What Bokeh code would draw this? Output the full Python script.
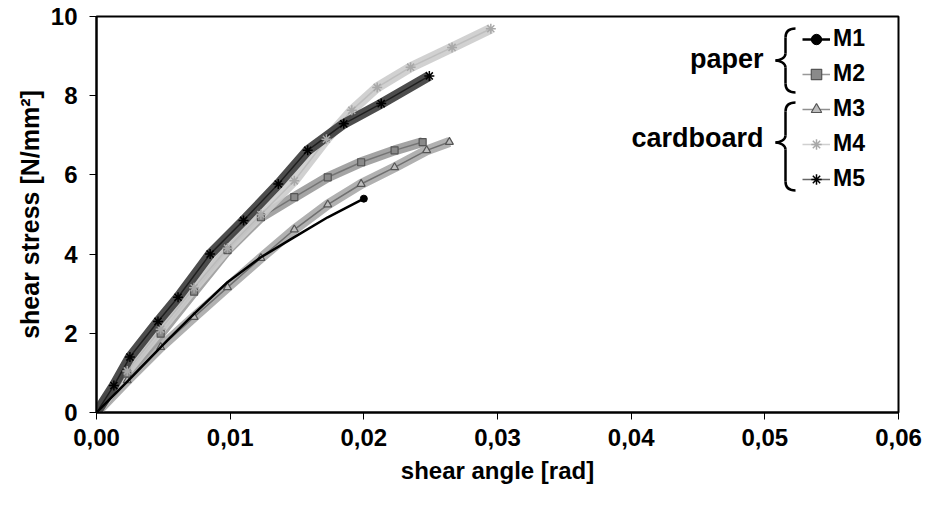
from bokeh.plotting import figure
from bokeh.models import (Range1d, FixedTicker, Legend, LegendItem, Label)
from bokeh.embed import file_html
from bokeh.resources import INLINE

# ---- data ----
m1_angle = [0, 0.0025, 0.0053, 0.0073, 0.0098, 0.0123, 0.0148, 0.0173, 0.0200]
m1_stress = [0, 0.85, 1.82, 2.49, 3.29, 3.92, 4.43, 4.93, 5.40]

m2_angle = [0, 0.0023, 0.0048, 0.0073, 0.0098, 0.0123, 0.0148, 0.0173, 0.0198, 0.0223, 0.0244]
m2_stress = [0, 0.98, 1.99, 3.05, 4.10, 4.93, 5.44, 5.94, 6.32, 6.62, 6.83]

m3_angle = [0, 0.0023, 0.0048, 0.0073, 0.0098, 0.0123, 0.0148, 0.0173, 0.0198, 0.0223, 0.0247, 0.0264]
m3_stress = [0, 0.81, 1.65, 2.41, 3.16, 3.90, 4.62, 5.25, 5.77, 6.19, 6.62, 6.83]

m4_angle = [0, 0.0023, 0.0048, 0.0073, 0.0098, 0.0123, 0.0148, 0.0172, 0.0191, 0.0210, 0.0235, 0.0266, 0.0295]
m4_stress = [0, 1.05, 2.10, 3.15, 4.15, 5.00, 5.85, 6.90, 7.63, 8.21, 8.72, 9.22, 9.69]

m5_angle = [0, 0.0013, 0.0025, 0.0046, 0.0061, 0.0085, 0.0110, 0.0136, 0.0158, 0.0185, 0.0213, 0.0249]
m5_stress = [0, 0.68, 1.40, 2.30, 2.91, 4.00, 4.85, 5.77, 6.62, 7.29, 7.80, 8.50]

x_ticks = [0, 0.01, 0.02, 0.03, 0.04, 0.05, 0.06]
x_tick_labels = ["0,00", "0,01", "0,02", "0,03", "0,04", "0,05", "0,06"]
y_ticks = [0, 2, 4, 6, 8, 10]

series_names = ["M1", "M2", "M3", "M4", "M5"]
group_labels = ["paper", "cardboard"]

FONT = "Liberation Sans"

p = figure(width=924, height=500, output_backend="svg", toolbar_location=None,
           x_range=Range1d(0, 0.06), y_range=Range1d(0, 10),
           min_border_left=96, min_border_right=26, min_border_top=16,
           min_border_bottom=88)
p.background_fill_color = "white"
p.border_fill_color = "white"
p.outline_line_color = "black"
p.outline_line_width = 2
p.xgrid.visible = False
p.ygrid.visible = False

for ax in (p.xaxis[0], p.yaxis[0]):
    ax.axis_line_color = "black"
    ax.axis_line_width = 2
    ax.major_tick_line_color = "black"
    ax.major_tick_line_width = 1
    ax.major_tick_out = 7
    ax.major_tick_in = 0
    ax.minor_tick_line_color = None
    ax.major_label_text_font = FONT
    ax.major_label_text_font_style = "bold"
    ax.major_label_text_font_size = "24px"
    ax.major_label_text_color = "black"
    ax.axis_label_text_font = FONT
    ax.axis_label_text_font_style = "bold"
    ax.axis_label_text_color = "black"

p.xaxis.axis_label_text_font_size = "24px"
p.yaxis.axis_label_text_font_size = "25px"
p.xaxis.ticker = FixedTicker(ticks=x_ticks)
p.xaxis.major_label_overrides = {t: l for t, l in zip(x_ticks, x_tick_labels)}
p.yaxis.ticker = FixedTicker(ticks=y_ticks)
p.xaxis.axis_label = "shear angle [rad]"
p.yaxis.axis_label = "shear stress [N/mm²]"
p.xaxis.major_label_standoff = 9
p.xaxis.axis_label_standoff = 8
p.yaxis.major_label_standoff = 12
p.yaxis.axis_label_standoff = 4

# ---- bands (dense measurement points) ----
series = [
    ("M3", m3_angle, m3_stress, "#a8a8a8", "#444444"),
    ("M2", m2_angle, m2_stress, "#9a9a9a", "#555555"),
    ("M4", m4_angle, m4_stress, "#cccccc", "#b0b0b0"),
    ("M5", m5_angle, m5_stress, "#3a3a3a", "black"),
]
thin = {}
for name, xs, ys, band_col, thin_col in series:
    p.line(xs, ys, line_color=band_col, line_width=10, line_alpha=0.9)
    thin[name] = p.line(xs, ys, line_color=thin_col, line_width=1.5, line_alpha=0.6)

marks = {}
marks["M3"] = p.scatter(m3_angle, m3_stress, marker="triangle", size=8,
                        fill_color="#bdbdbd", line_color="#555555", line_width=1.2)
marks["M2"] = p.scatter(m2_angle, m2_stress, marker="square", size=7,
                        fill_color="#8a8a8a", line_color="#555555", line_width=1.2)
marks["M4"] = p.scatter(m4_angle, m4_stress, marker="asterisk", size=10,
                        line_color="#a8a8a8", line_width=1.5)
marks["M5"] = p.scatter(m5_angle, m5_stress, marker="asterisk", size=10,
                        line_color="black", line_width=1.5)
thin["M1"] = p.line(m1_angle, m1_stress, line_color="black", line_width=2.5)
marks["M1"] = p.scatter(m1_angle[-1:], m1_stress[-1:], marker="circle", size=7,
                        fill_color="black", line_color="black")

# ---- legend ----
items = [LegendItem(label=n, renderers=[thin[n], marks[n]]) for n in series_names]
legend = Legend(items=items, location=(706, 220), orientation="vertical",
                glyph_width=28, glyph_height=26, label_height=26, spacing=8,
                label_standoff=3, padding=0, margin=0,
                border_line_color=None, background_fill_alpha=0,
                label_text_font=FONT, label_text_font_style="bold",
                label_text_font_size="23px", label_text_color="black")
p.add_layout(legend, "center")


# ---- group labels and braces (positioned in reference pixels) ----
def sx(px):
    return (px - 96) / 802 * 0.06


def sy(py):
    return (412 - py) / 396 * 10


def brace(top, tip, bottom, xr=795, xm=785, xt=775):
    segs = [
        ((xr, top), (xm, top + 9), (xm + 3, top), (xm, top + 3)),
        ((xm, top + 9), (xm, tip - 7), (xm, top + 9), (xm, tip - 7)),
        ((xm, tip - 7), (xt, tip), (xm, tip - 3), (xt + 5, tip)),
        ((xt, tip), (xm, tip + 7), (xt + 5, tip), (xm, tip + 3)),
        ((xm, tip + 7), (xm, bottom - 9), (xm, tip + 7), (xm, bottom - 9)),
        ((xm, bottom - 9), (xr, bottom), (xm, bottom - 3), (xm + 3, bottom)),
    ]
    p.bezier(x0=[sx(s[0][0]) for s in segs], y0=[sy(s[0][1]) for s in segs],
             x1=[sx(s[1][0]) for s in segs], y1=[sy(s[1][1]) for s in segs],
             cx0=[sx(s[2][0]) for s in segs], cy0=[sy(s[2][1]) for s in segs],
             cx1=[sx(s[3][0]) for s in segs], cy1=[sy(s[3][1]) for s in segs],
             line_color="black", line_width=2.5)


brace(28, 60, 92)
brace(102, 142, 190)

for text, py in zip(group_labels, [58, 137]):
    p.add_layout(Label(x=sx(763), y=sy(py), text=text, text_align="right",
                       text_baseline="middle", text_font=FONT,
                       text_font_style="bold", text_font_size="27px",
                       text_color="black"))

open("out.html", "w").write(file_html(p, INLINE))
